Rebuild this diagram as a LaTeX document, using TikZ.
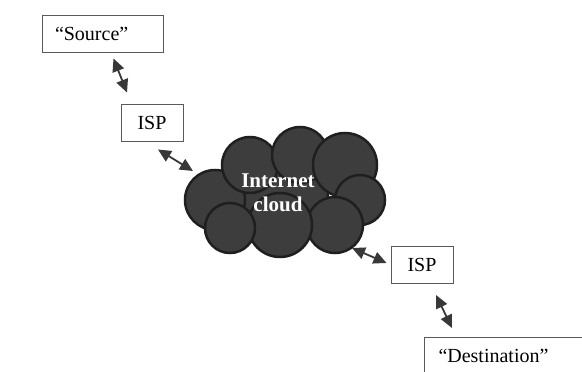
\documentclass[tikz,border=0pt]{standalone}
\usepackage{fontspec}
\setmainfont{Liberation Serif}
\usetikzlibrary{calc,arrows.meta}

\begin{document}
\begin{tikzpicture}[x=1pt,y=-1pt,
  box/.style={draw=black!65,line width=1pt,minimum height=37pt,inner xsep=13pt,inner ysep=0pt,font=\fontsize{20}{24}\selectfont},
  link/.style={{Triangle[length=13pt,width=12pt]}-{Triangle[length=13pt,width=12pt]},line width=1.8pt,draw=black!78,fill=black!78},
  puff/.style={fill=black!76,draw=black!88,line width=2.5pt}]
\useasboundingbox (0,0) rectangle (582,372);
\clip (0,0) rectangle (582,372);
\node[box,text width=95pt,align=left] (source) at (102.5,33.5) {“Source”};
\node[box,minimum width=62pt] (isp1) at (152,122.5) {ISP};
\node[box,minimum width=62pt] (isp2) at (422,265) {ISP};
\node[box,text width=150pt,align=left,inner xsep=14pt,anchor=north west] (dest) at (424,337) {“Destination”};
\foreach \cx/\cy/\r in {283/192/45,215/200/30,250/165/28,300/155/28,345/165/32,360/200/25,335/225/28,280/225/32,230/228/25}
  \filldraw[puff] (\cx,\cy) circle (\r);
\node[font=\bfseries\fontsize{21}{24}\selectfont,text=white,align=center] (cloud) at (278,193) {Internet\\cloud};
\draw[link] ($(source.south)+(11,6)$) -- ($(isp1.north)+(-25,-11)$);
\draw[link] ($(isp1.south)+(6,8)$) -- ($(cloud.center)+(-85,-22)$);
\draw[link] ($(cloud.center)+(74,55)$) -- ($(isp2.west)+(-4,-2)$);
\draw[link] ($(isp2.south)+(14,11)$) -- ($(dest.north west)+(28,-9)$);
\end{tikzpicture}
\end{document}
